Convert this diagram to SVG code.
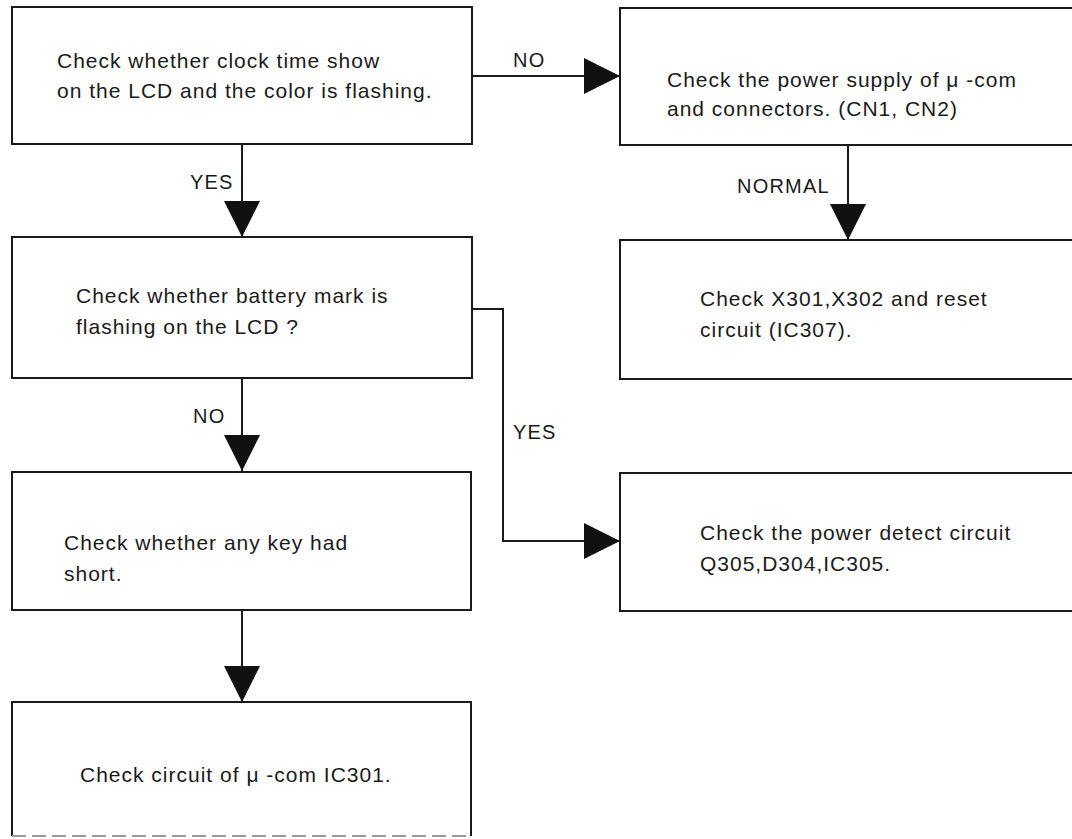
<svg xmlns="http://www.w3.org/2000/svg" width="1072" height="839" viewBox="0 0 1072 839">
  <style>
    .box { fill: #ffffff; stroke: #1a1a1a; stroke-width: 2; }
    .txt { font-family: "Liberation Sans", Arial, sans-serif; font-size: 21px; letter-spacing: 1px; fill: #1a1a1a; }
    .lbl { font-family: "Liberation Sans", Arial, sans-serif; font-size: 20px; letter-spacing: 1.2px; fill: #1a1a1a; }
    .conn { fill: none; stroke: #1a1a1a; stroke-width: 2; }
  </style>
  <defs>
    <marker id="arrow" viewBox="0 0 36 36" refX="36" refY="18" markerWidth="36" markerHeight="36" markerUnits="userSpaceOnUse" orient="auto">
      <path d="M0,0 L36,18 L0,36 Z" fill="#111111"/>
    </marker>
  </defs>
  <rect x="0" y="0" width="1072" height="839" fill="#ffffff"/>

  <g id="node-clock">
    <rect class="box" x="12" y="7" width="460" height="137"/>
    <text class="txt" x="57" y="68">Check whether clock time show</text>
    <text class="txt" x="57" y="98">on the LCD and the color is flashing.</text>
  </g>

  <g id="node-power-supply">
    <rect class="box" x="620" y="8" width="470" height="137"/>
    <text class="txt" x="667" y="87">Check the power supply of μ -com</text>
    <text class="txt" x="667" y="116">and connectors. (CN1, CN2)</text>
  </g>

  <g id="node-battery">
    <rect class="box" x="12" y="237" width="460" height="141"/>
    <text class="txt" x="76" y="303">Check whether battery mark is</text>
    <text class="txt" x="76" y="334">flashing on the LCD ?</text>
  </g>

  <g id="node-x301">
    <rect class="box" x="620" y="240" width="470" height="139"/>
    <text class="txt" x="700" y="306">Check X301,X302 and reset</text>
    <text class="txt" x="700" y="337">circuit (IC307).</text>
  </g>

  <g id="node-key">
    <rect class="box" x="12" y="472" width="459" height="138"/>
    <text class="txt" x="64" y="550">Check whether any key had</text>
    <text class="txt" x="64" y="581">short.</text>
  </g>

  <g id="node-power-detect">
    <rect class="box" x="620" y="473" width="470" height="138"/>
    <text class="txt" x="700" y="540">Check the power detect circuit</text>
    <text class="txt" x="700" y="571">Q305,D304,IC305.</text>
  </g>

  <g id="node-ic301">
    <path class="conn" d="M12,836 L12,702 L471,702 L471,836"/>
    <line x1="12" y1="836" x2="471" y2="836" stroke="#9a9a9a" stroke-width="2" stroke-dasharray="14 6"/>
    <text class="txt" x="80" y="782">Check circuit of μ -com IC301.</text>
  </g>

  <g id="connectors">
    <line class="conn" x1="472" y1="76" x2="620" y2="76" marker-end="url(#arrow)"/>
    <text class="lbl" x="513" y="67">NO</text>

    <line class="conn" x1="242" y1="144" x2="242" y2="237" marker-end="url(#arrow)"/>
    <text class="lbl" x="190" y="189">YES</text>

    <line class="conn" x1="848" y1="145" x2="848" y2="240" marker-end="url(#arrow)"/>
    <text class="lbl" x="737" y="193">NORMAL</text>

    <line class="conn" x1="242" y1="378" x2="242" y2="471" marker-end="url(#arrow)"/>
    <text class="lbl" x="193" y="423">NO</text>

    <polyline class="conn" points="472,309 503,309 503,541 620,541" marker-end="url(#arrow)"/>
    <text class="lbl" x="513" y="439">YES</text>

    <line class="conn" x1="242" y1="610" x2="242" y2="702" marker-end="url(#arrow)"/>
  </g>
</svg>
